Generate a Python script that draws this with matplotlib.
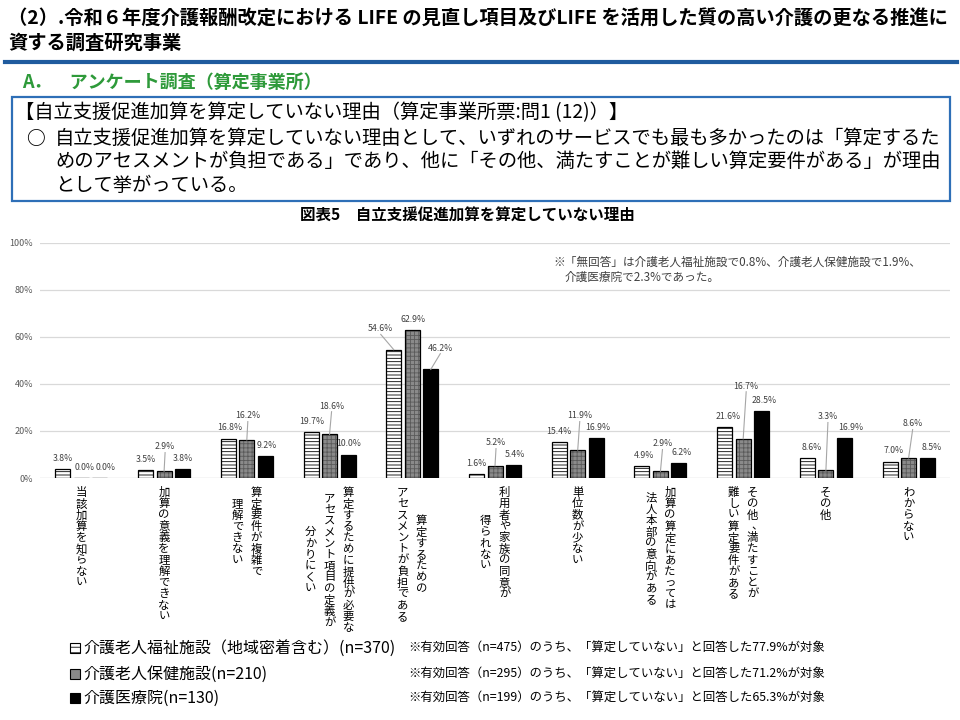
import matplotlib
matplotlib.use("Agg")
import matplotlib.pyplot as plt
import matplotlib.transforms as mtransforms
from matplotlib.patches import Rectangle

plt.rcParams["font.family"] = ["Noto Sans CJK JP", "DejaVu Sans"]
plt.rcParams["hatch.linewidth"] = 0.6

W, H = 960, 720

# --- data ---------------------------------------------------------------
categories = [
    ["当該加算を知らない"],
    ["加算の意義を理解できない"],
    ["算定要件が複雑で", "理解できない"],
    ["算定するために提供が必要な", "アセスメント項目の定義が", "分かりにくい"],
    ["算定するための", "アセスメントが負担である"],
    ["利用者や家族の同意が", "得られない"],
    ["単位数が少ない"],
    ["加算の算定にあたっては", "法人本部の意向がある"],
    ["その他、満たすことが", "難しい算定要件がある"],
    ["その他"],
    ["わからない"],
]
fukushi = [3.8, 3.5, 16.8, 19.7, 54.6, 1.6, 15.4, 4.9, 21.6, 8.6, 7.0]
hoken = [0.0, 2.9, 16.2, 18.6, 62.9, 5.2, 11.9, 2.9, 16.7, 3.3, 8.6]
iryoin = [0.0, 3.8, 9.2, 10.0, 46.2, 5.4, 16.9, 6.2, 28.5, 16.9, 8.5]
series_names = [
    "介護老人福祉施設（地域密着含む）(n=370)",
    "介護老人保健施設(n=210)",
    "介護医療院(n=130)",
]
series_notes = [
    "※有効回答（n=475）のうち、「算定していない」と回答した77.9%が対象",
    "※有効回答（n=295）のうち、「算定していない」と回答した71.2%が対象",
    "※有効回答（n=199）のうち、「算定していない」と回答した65.3%が対象",
]
y_ticks = [0, 20, 40, 60, 80, 100]

title_lines = [
    "（2）.令和６年度介護報酬改定における LIFE の見直し項目及びLIFE を活用した質の高い介護の更なる推進に",
    "資する調査研究事業",
]
section = "A．　アンケート調査（算定事業所）"
box_head = "【自立支援促進加算を算定していない理由（算定事業所票:問1 (12)）】"
box_body = [
    "自立支援促進加算を算定していない理由として、いずれのサービスでも最も多かったのは「算定するた",
    "めのアセスメントが負担である」であり、他に「その他、満たすことが難しい算定要件がある」が理由",
    "として挙がっている。",
]
chart_title = "図表5　自立支援促進加算を算定していない理由"
no_answer_note = [
    "※「無回答」は介護老人福祉施設で0.8%、介護老人保健施設で1.9%、",
    "介護医療院で2.3%であった。",
]

# --- label layout (extra lift in % above default, x shift in px) --------
lift = [
    [0, 0, 0, 0, 4.4, 0, 0, 0, 0, 0, 0],
    [0, 5.8, 5.7, 7.5, 0, 5.2, 10.0, 7.1, 17.9, 18.2, 9.9],
    [0, 0, 0, 0, 4.6, 0, 0, 0, 0, 0, 0],
]
shift_px = [
    [0, 0, 1, 1, -13, 0, 0, 2, 3, 4, 4],
    [3, 1, 1, 2, 1, 1, 2, 2, 3, 2, 4],
    [6, 0, 1.5, 1, 9.5, 1.5, 1.5, 2.5, 2.5, 6.5, 4.5],
]

series = [fukushi, hoken, iryoin]


def fx(x):
    return x / W


def fy(y):
    return 1 - y / H


fig = plt.figure(figsize=(W / 100, H / 100), dpi=100)
fig.patch.set_facecolor("white")

# --- header ---------------------------------------------------------------
fig.text(fx(8), fy(19), title_lines[0], fontsize=13.9, fontweight="bold",
         va="center", ha="left")
fig.text(fx(8), fy(43), title_lines[1], fontsize=13.9, fontweight="bold",
         va="center", ha="left")
fig.add_artist(plt.Line2D([fx(5), fx(957)], [fy(62), fy(62)], color="#1f5b9e",
                          lw=3.0, transform=fig.transFigure))
fig.text(fx(22), fy(82), section, fontsize=13, fontweight="bold",
         color="#2e9a3a", va="center", ha="left")
fig.add_artist(Rectangle((fx(12), fy(201)), fx(938), 104 / H, fill=False,
                         edgecolor="#2e6fb7", lw=1.6,
                         transform=fig.transFigure))
fig.text(fx(15), fy(113), box_head, fontsize=13.9, va="center", ha="left")
fig.text(fx(26), fy(138), "○", fontsize=13.5, fontweight="bold",
         va="center", ha="left")
for k, line in enumerate(box_body):
    fig.text(fx(55), fy(138 + 23.7 * k), line, fontsize=13.9,
             va="center", ha="left")
fig.text(fx(467), fy(216), chart_title, fontsize=11.2, fontweight="bold",
         va="center", ha="center")

# --- chart ----------------------------------------------------------------
ax = fig.add_axes([fx(40), fy(478), (950 - 40) / W, (478 - 243) / H])
n_cat = len(categories)
group_px = (950 - 40) / n_cat
pitch = 18.5 / group_px
width = 15 / group_px
xs = list(range(n_cat))

for yv in y_ticks:
    ax.axhline(yv, color="#d9d9d9" if yv else "#bfbfbf", lw=0.9, zorder=0)

offsets = [-pitch, 0, pitch]
for s, vals in enumerate(series):
    pos = [x + offsets[s] for x in xs]
    if s == 0:
        ax.bar(pos, vals, width, color="white", edgecolor="black",
               hatch="-----", lw=0.9, zorder=2)
    elif s == 1:
        ax.bar(pos, vals, width, color="#8a8a8a", edgecolor="#5a5a5a",
               hatch="++++", lw=0, zorder=2)
        ax.bar(pos, vals, width, fill=False, edgecolor="black", lw=0.9,
               zorder=3)
    else:
        ax.bar(pos, vals, width, color="black", edgecolor="black", lw=0.9,
               zorder=2)

    for i, v in enumerate(vals):
        bx = xs[i] + offsets[s]
        lx = bx + shift_px[s][i] / group_px
        ly = v + 4.5 + lift[s][i]
        ax.text(lx, ly, f"{v:.1f}%", fontsize=6.3, color="#404040",
                ha="center", va="center", zorder=5)
        if lift[s][i] > 3:
            ax.plot([bx, lx], [v, ly - 2.4], color="#a6a6a6", lw=0.8,
                    zorder=4)

ax.set_xlim(-0.5, n_cat - 0.5)
ax.set_ylim(0, 100)
ax.set_yticks(y_ticks)
ax.set_yticklabels([f"{t}%" for t in y_ticks], fontsize=6.5, color="#595959")
ax.tick_params(axis="y", length=0, pad=5)
ax.set_xticks([])
for sp in ax.spines.values():
    sp.set_visible(False)
ax.patch.set_alpha(0)

# vertical category labels, one glyph per step, columns right to left
char_pitch = 11.3
col_gap = 19.0
base = mtransforms.blended_transform_factory(ax.transData, ax.transAxes)
for i, cols in enumerate(categories):
    longest = max(len(c) for c in cols)
    n = len(cols)
    for k, col in enumerate(cols):
        dx = ((n - 1) / 2 - k) * col_gap
        start = 9 + (longest - len(col)) / 2 * char_pitch
        for j, ch in enumerate(col):
            ex = 4 if ch in "、。" else 0
            tr = mtransforms.offset_copy(
                base, fig=fig, x=dx + ex,
                y=-(start + char_pitch * (j + 0.5)), units="dots")
            ax.text(i, 0, ch, transform=tr, fontsize=8.2, ha="center",
                    va="center", clip_on=False)

fig.text(fx(553), fy(262), no_answer_note[0], fontsize=8.4, color="#404040",
         va="center", ha="left")
fig.text(fx(565), fy(277), no_answer_note[1], fontsize=8.4, color="#404040",
         va="center", ha="left")

# --- legend ---------------------------------------------------------------
legend_y = [648, 674, 698]
for s in range(3):
    y = legend_y[s]
    if s == 0:
        sq = Rectangle((fx(70), fy(y + 5)), 10 / W, 10 / H, facecolor="white",
                       edgecolor="black", hatch="---", lw=0.8,
                       transform=fig.transFigure)
    elif s == 1:
        sq = Rectangle((fx(70), fy(y + 5)), 10 / W, 10 / H,
                       facecolor="#8a8a8a", edgecolor="black", lw=0.8,
                       transform=fig.transFigure)
    else:
        sq = Rectangle((fx(70), fy(y + 5)), 10 / W, 10 / H, facecolor="black",
                       edgecolor="black", lw=0.8, transform=fig.transFigure)
    fig.add_artist(sq)
    fig.text(fx(83), fy(y), series_names[s], fontsize=11.5, va="center",
             ha="left")
    fig.text(fx(408), fy(y), series_notes[s], fontsize=8.9, va="center",
             ha="left")

fig.savefig("out.png", dpi=100)
